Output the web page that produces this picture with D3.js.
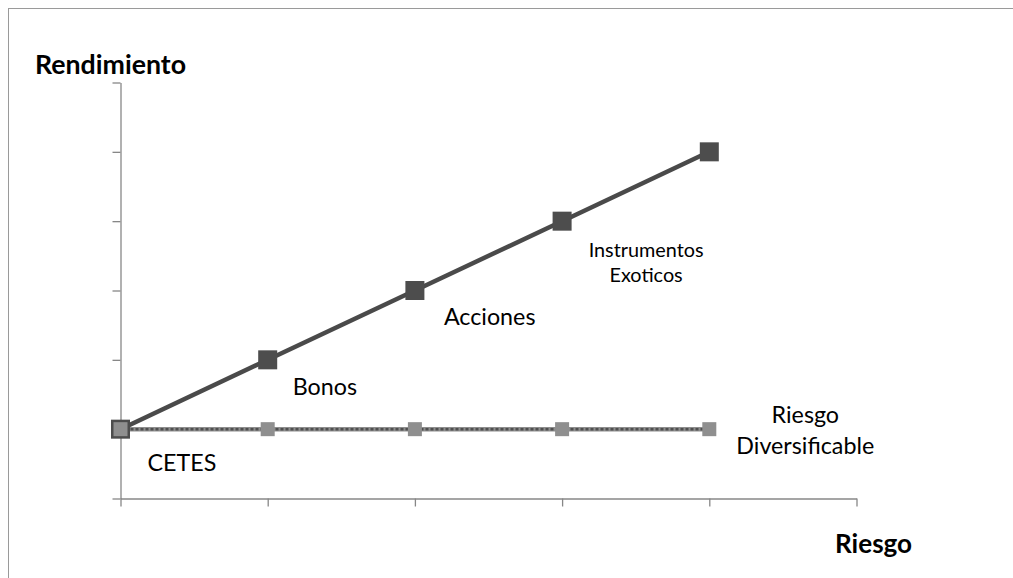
<!DOCTYPE html>
<html>
<head>
<meta charset="utf-8">
<script src="https://cdn.jsdelivr.net/npm/d3@7"></script>
<style>
  html, body { margin: 0; padding: 0; background: #fff; }
  svg { display: block; }
  text { font-family: Lato, "Open Sans", sans-serif; fill: #000; }
</style>
</head>
<body>
<svg id="chart" width="1013" height="578"></svg>
<script>
// Risk categories along the horizontal axis (the last slot is left empty)
const categories = ["c1", "c2", "c3", "c4", "c5", "c6"];
// Return line: CETES, Bonos, Acciones, Instrumentos Exoticos, top instrument
const rendimiento = [1, 2, 3, 4, 5];
// Diversifiable-risk baseline
const diversificable = [1, 1, 1, 1, 1];
// Value-axis ticks (no labels shown)
const yTicks = [0, 1, 2, 3, 4, 5, 6];
// Annotation texts
const seriesLabels = ["CETES", "Bonos", "Acciones", ["Instrumentos", "Exoticos"]];
const baselineLabel = ["Riesgo", "Diversificable"];
const yTitle = "Rendimiento";
const xTitle = "Riesgo";

const svg = d3.select("#chart");
const W = 1013, H = 578;

// Font size at which `measured` (a text or tspan node) renders `w` pixels wide;
// the trial size is set on `holder`, which carries the font-size attribute
function sizeForWidth(holder, measured, w) {
  holder.setAttribute("font-size", 100);
  const len = measured.getComputedTextLength();
  return 100 * w / len;
}

// outer frame
svg.append("rect")
  .attr("x", 8.5).attr("y", 8.5)
  .attr("width", W + 20).attr("height", H + 20)
  .attr("fill", "none").attr("stroke", "#9a9a9a").attr("stroke-width", 1);

const x = d3.scalePoint().domain(categories).range([120.5, 856.5]);
const y = d3.scaleLinear().domain([0, 6]).range([498.5, 82.5]);

const axisColor = "#878787";

// value axis
const yAxis = svg.append("g")
  .attr("transform", `translate(${x(categories[0])},0)`)
  .call(d3.axisLeft(y).tickValues(yTicks).tickSize(8).tickSizeOuter(0).tickFormat(""));
// category axis
const xAxis = svg.append("g")
  .attr("transform", `translate(0,${y(0)})`)
  .call(d3.axisBottom(x).tickSize(8).tickSizeOuter(0).tickFormat(""));
[yAxis, xAxis].forEach(g => {
  g.selectAll("path, line").attr("stroke", axisColor).attr("stroke-width", 1.3);
});

const pts1 = rendimiento.map((v, i) => [x(categories[i]), y(v)]);
const pts2 = diversificable.map((v, i) => [x(categories[i]), y(v)]);
const line = d3.line();

// diversifiable-risk line: grey band with darker dashes
svg.append("path").attr("d", line(pts2))
  .attr("fill", "none").attr("stroke", "#8d8d8d").attr("stroke-width", 4.5);
svg.append("path").attr("d", line(pts2))
  .attr("fill", "none").attr("stroke", "#505050").attr("stroke-width", 2.5)
  .attr("stroke-dasharray", "3,2");

// return line
svg.append("path").attr("d", line(pts1))
  .attr("fill", "none").attr("stroke", "#4a4a4a").attr("stroke-width", 4.5);

// square markers; the baseline's grey squares sit on top
const s1 = 19, s2 = 14;
svg.append("g").selectAll("rect").data(pts1).join("rect")
  .attr("x", d => d[0] - s1 / 2).attr("y", d => d[1] - s1 / 2)
  .attr("width", s1).attr("height", s1)
  .attr("fill", "#4d4d4d");
svg.append("g").selectAll("rect").data(pts2).join("rect")
  .attr("x", d => d[0] - s2 / 2).attr("y", d => d[1] - s2 / 2)
  .attr("width", s2).attr("height", s2)
  .attr("fill", "#8f8f8f");

// point annotations below-right of the first three markers
const simple = [
  { i: 0, dx: 27, dy: 42 },
  { i: 1, dx: 25, dy: 35 },
  { i: 2, dx: 29, dy: 34 }
];
const labelNodes = simple.map(o => svg.append("text")
  .attr("x", pts1[o.i][0] + o.dx).attr("y", pts1[o.i][1] + o.dy)
  .text(seriesLabels[o.i]).node());
// one shared size for the regular labels, taken from "Bonos" and "Acciones"
const labelSize = (sizeForWidth(labelNodes[1], labelNodes[1], 64) +
                   sizeForWidth(labelNodes[2], labelNodes[2], 92)) / 2;
labelNodes.forEach(n => n.setAttribute("font-size", labelSize.toFixed(2)));

// two-line label under the fourth point (smaller type)
const exo = svg.append("text").attr("text-anchor", "middle");
seriesLabels[3].forEach((t, k) => {
  exo.append("tspan")
    .attr("x", pts1[3][0] + 84).attr("y", pts1[3][1] + 36 + k * 25)
    .text(t);
});
exo.attr("font-size", sizeForWidth(exo.node(), exo.select("tspan").node(), 115).toFixed(2));

// baseline label at the right end of the flat line
const div = svg.append("text").attr("text-anchor", "middle")
  .attr("font-size", labelSize.toFixed(2));
baselineLabel.forEach((t, k) => {
  div.append("tspan")
    .attr("x", pts2[4][0] + 96).attr("y", pts2[4][1] - 6 + k * 31)
    .text(t);
});

// axis titles
const yt = svg.append("text").attr("x", 35).attr("y", 74)
  .attr("font-weight", "bold").text(yTitle);
yt.attr("font-size", sizeForWidth(yt.node(), yt.node(), 151).toFixed(2));
const xt = svg.append("text").attr("x", 835).attr("y", 553)
  .attr("font-weight", "bold").text(xTitle);
xt.attr("font-size", sizeForWidth(xt.node(), xt.node(), 77).toFixed(2));
</script>
</body>
</html>
